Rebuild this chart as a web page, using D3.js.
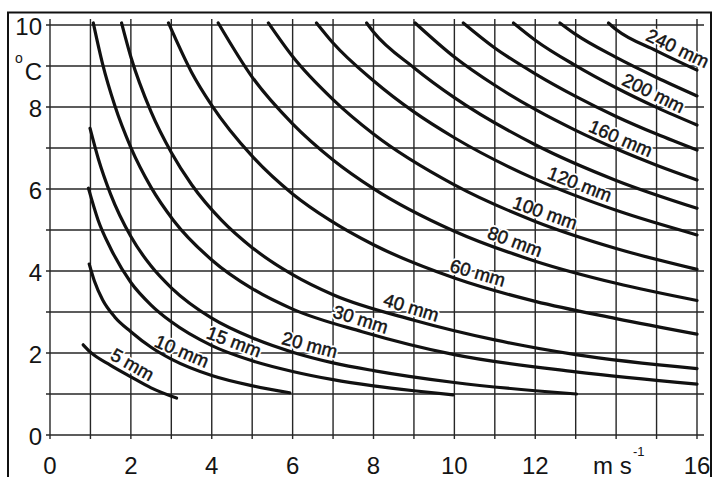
<!DOCTYPE html>
<html>
<head>
<meta charset="utf-8">
<script src="https://cdn.jsdelivr.net/npm/d3@7/dist/d3.min.js"></script>
<style>
  body { margin: 0; background: #fff; }
  text { font-family: "Liberation Sans", Arial, sans-serif; fill: #141414; }
</style>
</head>
<body>
<div id="chart"></div>
<script>
const width = 714;
const height = 477;

// tick labels (14 is replaced by the unit)
const xTickValues = [0, 2, 4, 6, 8, 10, 12, 16];
const yTickValues = [0, 2, 4, 6, 8, 10];

// [wind speed m/s, temperature °C]
const melt5 = [[0.82, 2.2], [1.0, 2.02], [1.5, 1.7], [2.0, 1.42], [2.5, 1.15], [3.13, 0.9]];
const melt10 = [[0.97, 4.17], [1.1, 3.75], [1.3, 3.3], [1.6, 2.88], [2, 2.52], [2.5, 2.14], [3, 1.85], [4, 1.45], [5, 1.2], [5.93, 1.03]];
const melt15 = [[0.95, 6.02], [1.19, 5.24], [1.5, 4.55], [2, 3.72], [2.5, 3.17], [3, 2.76], [4, 2.18], [5, 1.81], [6, 1.55], [7, 1.35], [8, 1.2], [9, 1.08], [9.97, 0.98]];
const melt20 = [[0.99, 7.48], [1.2, 6.72], [1.5, 5.87], [2, 4.84], [2.5, 4.12], [3, 3.59], [4, 2.85], [5, 2.37], [6, 2.02], [7, 1.76], [8, 1.57], [10, 1.28], [12, 1.08], [13.02, 1.0]];
const melt30 = [[1.07, 10.05], [1.3, 9.05], [1.6, 8.04], [2.0, 7.01], [2.5, 6.04], [3.05, 5.24], [4, 4.27], [5, 3.57], [6, 3.07], [7.72, 2.52], [10, 1.96], [13, 1.54], [16, 1.24]];
const melt40 = [[1.77, 10.05], [2.0, 9.22], [2.5, 7.88], [3.0, 6.89], [3.5, 6.11], [4.24, 5.24], [5, 4.57], [6, 3.91], [7, 3.42], [9, 2.8], [11, 2.32], [13, 1.96], [16, 1.62]];
const melt60 = [[2.93, 10.05], [3.5, 8.85], [4, 8.04], [5, 6.8], [6, 5.88], [6.92, 5.24], [8, 4.64], [10, 3.83], [12, 3.26], [14, 2.84], [16, 2.46]];
const melt80 = [[4.16, 10.05], [5, 8.73], [6, 7.59], [7, 6.71], [8, 6.01], [10, 4.97], [12, 4.24], [14, 3.7], [16, 3.28]];
const melt100 = [[5.4, 10.05], [6, 9.23], [7, 8.18], [8, 7.34], [10, 6.1], [12, 5.21], [14, 4.55], [16, 4.04]];
const melt120 = [[6.59, 10.05], [7, 9.56], [8, 8.64], [9, 7.88], [10, 7.25], [12, 6.24], [14, 5.48], [16, 4.88]];
const melt140 = [[7.83, 10.05], [8, 9.83], [9, 8.96], [10, 8.23], [12, 7.08], [14, 6.21], [16, 5.53]];
const melt160 = [[9.03, 10.05], [10, 9.22], [11, 8.53], [12, 7.94], [13, 7.43], [14, 6.98], [15, 6.58], [16, 6.22]];
const melt180 = [[10.22, 10.05], [11, 9.44], [12, 8.81], [13, 8.26], [14, 7.77], [15, 7.34], [16, 6.95]];
const melt200 = [[11.46, 10.05], [12, 9.63], [13, 9.01], [14, 8.47], [15, 7.99], [16, 7.56]];
const melt220 = [[12.61, 10.05], [13, 9.77], [14, 9.21], [15, 8.72], [16, 8.27]];
const melt240 = [[13.81, 10.05], [14, 9.89], [15, 9.37], [16, 8.9]];

const meltDepths = [5, 10, 15, 20, 30, 40, 60, 80, 100, 120, 140, 160, 180, 200, 220, 240];
const meltCurves = [melt5, melt10, melt15, melt20, melt30, melt40, melt60, melt80, melt100, melt120, melt140, melt160, melt180, melt200, melt220, melt240];

// which curves carry a label, and at what wind speed
const labelDepths = [5, 10, 15, 20, 30, 40, 60, 80, 100, 120, 160, 200, 240];
const labelSpeeds = [1.9, 3.15, 4.45, 6.35, 7.6, 8.85, 10.5, 11.4, 12.15, 13.0, 14.0, 14.8, 15.4];

const xScale = d3.scaleLinear().domain([0, 16]).range([50, 697]);
const yScale = d3.scaleLinear().domain([0, 10]).range([435, 25]);

const svg = d3.select("#chart")
    .append("svg")
        .attr("width", width)
        .attr("height", height);

svg.append("rect")
    .attr("width", width)
    .attr("height", height)
    .attr("fill", "#fff");

// frame round the figure
svg.append("rect")
    .attr("x", 8)
    .attr("y", 12.5)
    .attr("width", 703)
    .attr("height", 490)
    .attr("fill", "none")
    .attr("stroke", "#111")
    .attr("stroke-width", 2);

const grid = svg.append("g")
    .attr("stroke", "#262626")
    .attr("stroke-width", 1.4);

grid.selectAll(".vline")
    .data(xScale.ticks(16))
    .enter()
    .append("line")
    .attr("x1", d => xScale(d))
    .attr("x2", d => xScale(d))
    .attr("y1", yScale(10) - 6)
    .attr("y2", yScale(0) + 4);

grid.selectAll(".hline")
    .data(yScale.ticks(10))
    .enter()
    .append("line")
    .attr("x1", xScale(0) - 4)
    .attr("x2", xScale(16) + 7)
    .attr("y1", d => yScale(d))
    .attr("y2", d => yScale(d));

function valueAt(points, v) {
    for (let i = 1; i < points.length; i++) {
        if (v <= points[i][0]) {
            const a = points[i - 1], b = points[i];
            const t = (v - a[0]) / (b[0] - a[0]);
            return a[1] + t * (b[1] - a[1]);
        }
    }
    return points[points.length - 1][1];
}

const labels = labelDepths.map((mm, i) => {
    const pts = meltCurves[meltDepths.indexOf(mm)];
    const v = labelSpeeds[i];
    const x0 = xScale(v - 0.2), y0 = yScale(valueAt(pts, v - 0.2));
    const x1 = xScale(v + 0.2), y1 = yScale(valueAt(pts, v + 0.2));
    return {
        text: mm + " mm",
        x: xScale(v),
        y: yScale(valueAt(pts, v)),
        angle: Math.atan2(y1 - y0, x1 - x0) * 180 / Math.PI
    };
});

const labelTransform = d => "translate(" + d.x + "," + d.y + ") rotate(" + d.angle + ")";

// white halo under the labels: breaks the grid, not the curves
svg.append("g")
    .selectAll("text")
    .data(labels)
    .enter()
    .append("text")
    .attr("transform", labelTransform)
    .attr("y", -5)
    .attr("text-anchor", "middle")
    .attr("font-size", 18.5)
    .attr("stroke", "#fff")
    .attr("stroke-width", 4)
    .style("fill", "#fff")
    .text(d => d.text);

const line = d3.line()
    .x(d => xScale(d[0]))
    .y(d => yScale(d[1]))
    .curve(d3.curveMonotoneX);

svg.append("g")
    .selectAll("path")
    .data(meltCurves)
    .enter()
    .append("path")
    .attr("d", d => line(d))
    .attr("fill", "none")
    .attr("stroke", "#111")
    .attr("stroke-width", 3.2)
    .attr("stroke-linecap", "round");

svg.append("g")
    .selectAll("text")
    .data(labels)
    .enter()
    .append("text")
    .attr("transform", labelTransform)
    .attr("y", -5)
    .attr("text-anchor", "middle")
    .attr("font-size", 18.5)
    .attr("stroke", "#141414")
    .attr("stroke-width", 0.5)
    .text(d => d.text);

// axis numbers
svg.append("g")
    .selectAll("text")
    .data(xTickValues)
    .enter()
    .append("text")
    .attr("x", d => xScale(d))
    .attr("y", 474)
    .attr("text-anchor", "middle")
    .attr("font-size", 24)
    .text(d => d);

svg.append("g")
    .selectAll("text")
    .data(yTickValues)
    .enter()
    .append("text")
    .attr("x", 42)
    .attr("y", d => yScale(d) + 10)
    .attr("text-anchor", "end")
    .attr("font-size", 24)
    .text(d => d);

// units
svg.append("text").attr("x", 15).attr("y", 63).attr("font-size", 14).text("o");
svg.append("text").attr("x", 42).attr("y", 80).attr("text-anchor", "end").attr("font-size", 24).text("C");

svg.append("text").attr("x", 593).attr("y", 474).attr("font-size", 24).text("m s");
svg.append("text").attr("x", 633).attr("y", 456).attr("font-size", 13).text("-1");
</script>
</body>
</html>
